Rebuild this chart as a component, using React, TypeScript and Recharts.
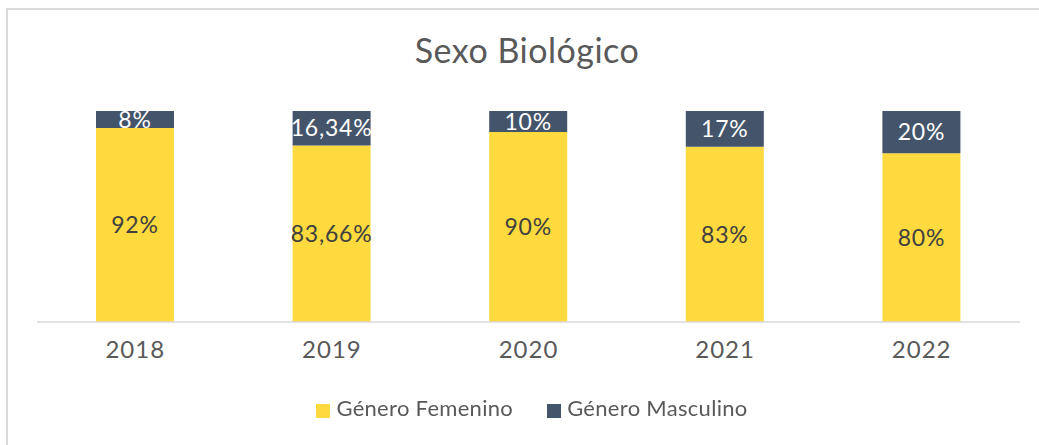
import React from "react";
import { BarChart, Bar, XAxis, YAxis, LabelList } from "recharts";

const years = ["2018", "2019", "2020", "2021", "2022"];
const femenino = [92, 83.66, 90, 83, 80];
const masculino = [8, 16.34, 10, 17, 20];

const data = years.map((year, i) => ({
  year,
  femenino: femenino[i],
  masculino: masculino[i],
}));

const YELLOW = "#FFDA3E";
const NAVY = "#44546A";
const FONT = "Lato, 'Open Sans', sans-serif";

const formatPct = (v: any) => `${String(v).replace(".", ",")}%`;

export default function App() {
  return (
    <div style={{ position: "fixed", left: 0, top: 0, width: 1039, height: 445, background: "#fff", fontFamily: FONT }}>
      {/* chart frame */}
      <div
        style={{
          position: "absolute",
          left: 6,
          top: 8,
          width: 1060,
          height: 460,
          border: "2px solid #D9D9D9",
          boxSizing: "border-box",
        }}
      />
      <div
        style={{
          position: "absolute",
          left: 0,
          width: 1054,
          top: 30,
          textAlign: "center",
          fontSize: 34,
          letterSpacing: 0.5,
          color: "#595959",
          lineHeight: "40px",
        }}
      >
        Sexo Biológico
      </div>

      <div style={{ position: "absolute", left: 0, top: 0 }}>
        <BarChart
          width={1039}
          height={445}
          data={data}
          margin={{ top: 111, right: 19, bottom: 93, left: 37 }}
        >
          <XAxis
            dataKey="year"
            height={30}
            tickLine={false}
            axisLine={{ stroke: "#D9D9D9", strokeWidth: 1.5 }}
            tick={{ fill: "#595959", fontSize: 24, fontFamily: FONT, letterSpacing: 1 }}
            tickMargin={13}
          />
          <YAxis hide domain={[0, 100]} />
          <Bar dataKey="femenino" stackId="a" fill={YELLOW} barSize={78} isAnimationActive={false}>
            <LabelList
              dataKey="femenino"
              position="center"
              formatter={formatPct}
              style={{ fill: "#404040", fontSize: 23, fontFamily: FONT, letterSpacing: 0.8 }}
            />
          </Bar>
          <Bar dataKey="masculino" stackId="a" fill={NAVY} barSize={78} isAnimationActive={false}>
            <LabelList
              dataKey="masculino"
              position="center"
              formatter={formatPct}
              style={{ fill: "#FFFFFF", fontSize: 23, fontFamily: FONT, letterSpacing: 0.8 }}
            />
          </Bar>
        </BarChart>
      </div>

      {/* legend */}
      <div
        style={{
          position: "absolute",
          left: 0,
          width: 1064,
          top: 394,
          display: "flex",
          justifyContent: "center",
          gap: 34,
          fontSize: 22,
          letterSpacing: 0.3,
          color: "#595959",
          lineHeight: "28px",
        }}
      >
        {[
          { name: "Género Femenino", color: YELLOW },
          { name: "Género Masculino", color: NAVY },
        ].map((item) => (
          <div key={item.name} style={{ display: "flex", alignItems: "center", gap: 6 }}>
            <span style={{ width: 14, height: 14, background: item.color, display: "inline-block", marginTop: 6 }} />
            <span>{item.name}</span>
          </div>
        ))}
      </div>
    </div>
  );
}
